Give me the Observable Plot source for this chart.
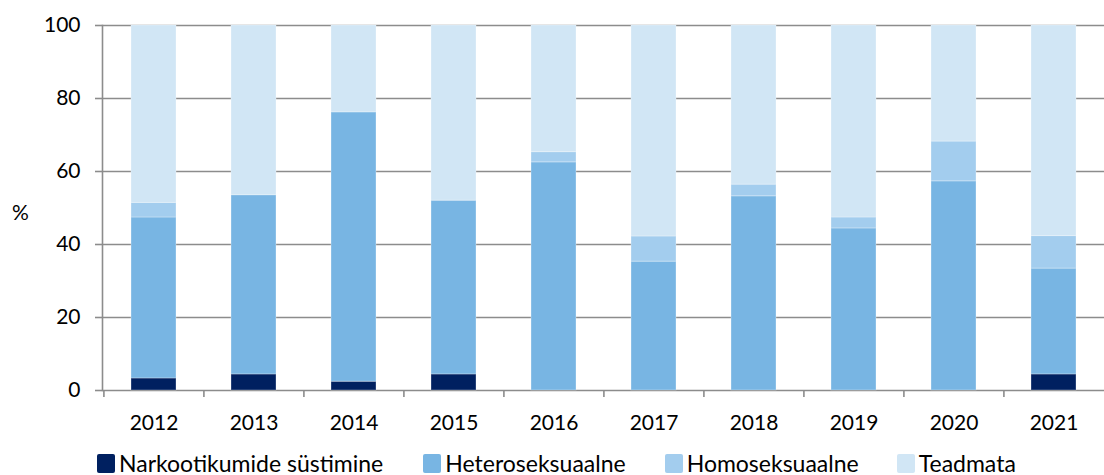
<!DOCTYPE html>
<html>
<head>
<meta charset="utf-8">
<script src="https://cdn.jsdelivr.net/npm/d3@7"></script>
<script src="https://cdn.jsdelivr.net/npm/@observablehq/plot@0.6"></script>
<style>
  html, body { margin: 0; padding: 0; background: #fff; }
  #chart { width: 1104px; }
  .legend { display: flex; align-items: center; height: 30px; margin-top: 8px; padding-left: 97px;
    font-family: Lato, "Open Sans", sans-serif; font-size: 23px; color: #000; }
  .legend .item { display: flex; align-items: center; }
  .legend .sw { width: 18px; height: 19px; border-radius: 2px; margin-right: 4px; }
</style>
</head>
<body>
<div id="chart"></div>
<script>
const years = ["2012","2013","2014","2015","2016","2017","2018","2019","2020","2021"];
const seriesNames = ["Narkootikumide süstimine","Heteroseksuaalne","Homoseksuaalne","Teadmata"];
const seriesColors = ["#002060","#78B5E3","#A3CDEE","#D1E6F5"];
const narko    = [3.3, 4.4, 2.4, 4.4, 0,    0,    0,    0,    0,    4.4];
const hetero   = [44.1,49.1,73.8,47.6,62.5, 35.3, 53.2, 44.4, 57.3, 29.0];
const homo     = [4.0, 0,   0,   0,   2.8,  6.9,  3.2,  3.0,  10.9, 8.9];
const teadmata = [48.6,46.5,23.8,48.0,34.7, 57.8, 43.6, 52.6, 31.8, 57.7];
const yTicks = [0,20,40,60,80,100];

const seriesValues = [narko, hetero, homo, teadmata];
const rows = [];
years.forEach((yr, i) => {
  seriesNames.forEach((s, j) => rows.push({year: yr, series: s, value: seriesValues[j][i]}));
});

const font = "Lato, 'Open Sans', sans-serif";
const step = (1104 - 102) / years.length;

const plot = Plot.plot({
  width: 1104,
  height: 440,
  marginTop: 25,
  marginBottom: 50,
  marginLeft: 102,
  marginRight: 0,
  style: {fontFamily: font, fontSize: "21px", color: "#000", background: "#fff"},
  x: {domain: years, paddingInner: 0.55, paddingOuter: 0.275, label: null},
  y: {domain: [0, 100], label: null},
  color: {domain: seriesNames, range: seriesColors},
  marks: [
    Plot.ruleY(yTicks, {stroke: "#8c8c8c", strokeWidth: 1.6}),
    Plot.barY(rows, Plot.stackY({order: seriesNames}, {x: "year", y: "value", fill: "series", stroke: "#ffffff", strokeOpacity: 0.3, strokeWidth: 1})),
    Plot.frame({anchor: "left", stroke: "#8c8c8c", strokeWidth: 1.6}),
    Plot.axisY({ticks: yTicks, tickSize: 7, tickPadding: 15, stroke: "#8c8c8c", strokeWidth: 1.6, fontSize: 21}),
    Plot.axisX({tickSize: 7, text: null, dx: -step / 2, stroke: "#8c8c8c", strokeWidth: 1.6}),
    Plot.axisX({tickSize: 0, tickPadding: 25, fontSize: 21}),
    Plot.text(["%"], {frameAnchor: "left", dx: -82, dy: 5, fontSize: 21, textAnchor: "middle", fill: "#000"})
  ]
});

document.getElementById("chart").appendChild(plot);

const legend = document.createElement("div");
legend.className = "legend";
const gaps = [0, 40, 39, 38];
seriesNames.forEach((s, j) => {
  const item = document.createElement("div");
  item.className = "item";
  item.style.marginLeft = gaps[j] + "px";
  const sw = document.createElement("span");
  sw.className = "sw";
  sw.style.background = seriesColors[j];
  const t = document.createElement("span");
  t.textContent = s;
  item.appendChild(sw);
  item.appendChild(t);
  legend.appendChild(item);
});
document.getElementById("chart").appendChild(legend);
</script>
</body>
</html>
